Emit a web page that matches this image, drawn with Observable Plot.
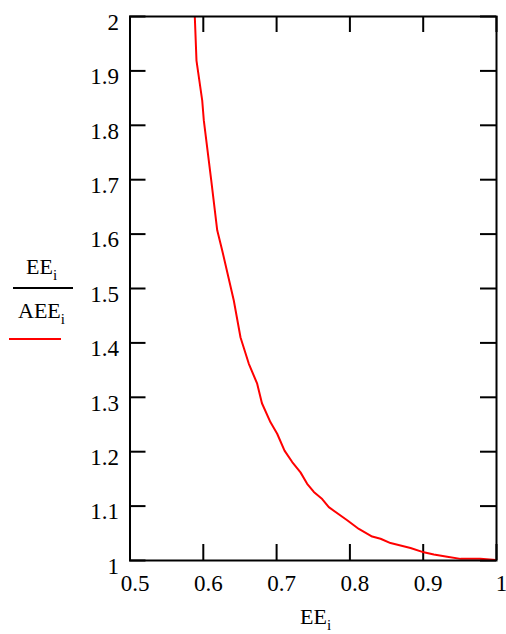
<!DOCTYPE html>
<html><head><meta charset="utf-8">
<script src="https://cdn.jsdelivr.net/npm/d3@7"></script>
<script src="https://cdn.jsdelivr.net/npm/@observablehq/plot@0.6"></script>
<style>
body{margin:0;background:#fff}
#chart{width:506px;height:634px}
#chart svg text, #chart svg tspan { font-family: "Liberation Serif", "Times New Roman", serif !important; }
</style>
</head><body><div id="chart"></div>
<script>
const ee = [0.5884, 0.5907, 0.5985, 0.6007, 0.6108, 0.6190, 0.6258, 0.6416, 0.6508, 0.6620, 0.6735, 0.6800, 0.6917, 0.7008, 0.7108, 0.7213, 0.7326, 0.7417, 0.7508, 0.7622, 0.7712, 0.7963, 0.8122, 0.8304, 0.8418, 0.8554, 0.8827, 0.9008, 0.9145, 0.9327, 0.9509, 0.9780, 0.9990];
const ratio = [2.000, 1.919, 1.846, 1.809, 1.699, 1.607, 1.570, 1.478, 1.410, 1.362, 1.325, 1.289, 1.254, 1.233, 1.202, 1.181, 1.162, 1.141, 1.126, 1.113, 1.098, 1.074, 1.058, 1.044, 1.040, 1.032, 1.023, 1.015, 1.011, 1.007, 1.003, 1.003, 1.001];
const xTicks = [0.5, 0.6, 0.7, 0.8, 0.9, 1];
const xTickLabels = ["0.5", "0.6", "0.7", "0.8", "0.9", "1"];
const yTicks = [1, 1.1, 1.2, 1.3, 1.4, 1.5, 1.6, 1.7, 1.8, 1.9, 2];
const yTickLabels = ["1", "1.1", "1.2", "1.3", "1.4", "1.5", "1.6", "1.7", "1.8", "1.9", "2"];

const W = 506, H = 634, mL = 129.5, mR = 10, mT = 16, mB = 74;
const innerW = W - mL - mR, innerH = H - mT - mB, tick = 16;
const font = "Liberation Serif, Times New Roman, serif";
const data = ee.map((x, i) => ({x, y: ratio[i]}));

const plot = Plot.plot({
  width: W, height: H,
  marginLeft: mL, marginRight: mR, marginTop: mT, marginBottom: mB,
  style: {background: "white", color: "black"},
  x: {domain: [0.5, 1]},
  y: {domain: [1, 2]},
  marks: [
    Plot.tickX(xTicks, {x: d => d, insetTop: innerH - tick, stroke: "black", strokeWidth: 2}),
    Plot.tickX(xTicks, {x: d => d, insetBottom: innerH - tick, stroke: "black", strokeWidth: 2}),
    Plot.tickY(yTicks, {y: d => d, insetRight: innerW - tick, stroke: "black", strokeWidth: 2}),
    Plot.tickY(yTicks, {y: d => d, insetLeft: innerW - tick, stroke: "black", strokeWidth: 2}),
    Plot.line(data, {x: "x", y: "y", stroke: "#ff0000", strokeWidth: 2, clip: true}),
    Plot.frame({stroke: "black", strokeWidth: 2}),
    Plot.axisX({ticks: xTicks, tickSize: 0, tickPadding: 14, dx: 5, label: null, fontSize: 23,
      tickFormat: d => xTickLabels[xTicks.indexOf(d)]}),
    Plot.axisY({ticks: yTicks, tickSize: 0, tickPadding: 11, dy: 6, label: null, fontSize: 23,
      tickFormat: d => yTickLabels[yTicks.indexOf(d)]})
  ]
});
document.getElementById("chart").appendChild(plot);

const svg = d3.select(plot);
function sublabel(x, y, main, sub) {
  const t = svg.append("text").attr("x", x).attr("y", y).attr("text-anchor", "start")
    .attr("font-family", font).attr("font-size", 22).attr("fill", "black");
  t.append("tspan").text(main);
  t.append("tspan").attr("font-size", 15).attr("dy", 6).text(sub);
}
sublabel(300, 624, "EE", "i");
sublabel(26, 274, "EE", "i");
sublabel(18, 318, "AEE", "i");
svg.append("line").attr("x1", 13).attr("x2", 73).attr("y1", 288).attr("y2", 288)
  .attr("stroke", "black").attr("stroke-width", 2);
svg.append("line").attr("x1", 9).attr("x2", 61).attr("y1", 339).attr("y2", 339)
  .attr("stroke", "#ff0000").attr("stroke-width", 2);
</script>
</body></html>
